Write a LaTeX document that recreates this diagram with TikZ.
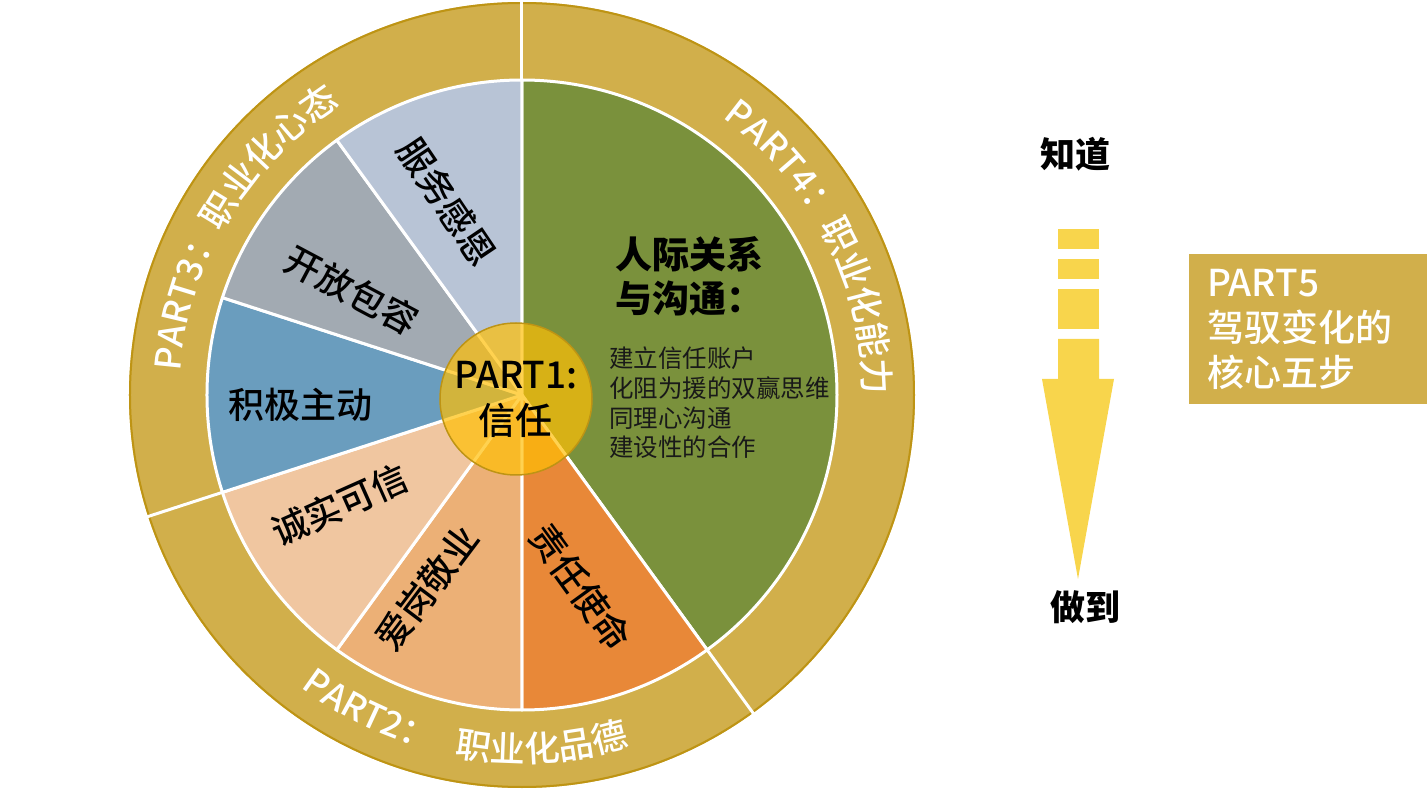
\documentclass[tikz,border=0pt]{standalone}
\usepackage{fontspec}
\setmainfont{Noto Sans CJK SC}
\newfontfamily\medfont{Noto Sans CJK SC}[UprightFont={* Medium}]
\usetikzlibrary{decorations.text}

\definecolor{ringgold}{RGB}{209,175,75}
\definecolor{ringedge}{RGB}{190,148,20}
\definecolor{commgreen}{RGB}{122,145,60}
\definecolor{dutyorange}{RGB}{232,136,56}
\definecolor{jobtan}{RGB}{236,176,118}
\definecolor{honestpeach}{RGB}{240,198,160}
\definecolor{activeblue}{RGB}{106,157,190}
\definecolor{opengrey}{RGB}{162,170,178}
\definecolor{servesky}{RGB}{184,196,214}
\definecolor{trustgold}{RGB}{255,191,6}
\definecolor{arrowyellow}{RGB}{248,213,76}

\newcommand{\ringfont}{\medfont\fontsize{35.5}{36}\selectfont}

\begin{document}
\begin{tikzpicture}[
    x=1pt, y=1pt,
    slice/.style={draw=white, line width=3pt, line join=round},
    divider/.style={draw=white, line width=3pt},
    slicelabel/.style={font=\medfont\fontsize{36}{40}\selectfont, inner sep=0pt},
    ringtext/.style={decorate, decoration={text along path, text align=center,
                     text color=white}},
    hub/.style={circle, minimum size=152pt, inner sep=0pt, fill=trustgold,
                fill opacity=0.7, text opacity=1, draw=ringedge, line width=1.5pt,
                align=center, font=\medfont\fontsize{37}{46}\selectfont},
    steptext/.style={font=\fontsize{35}{40}\selectfont\bfseries, inner sep=0pt},
    part5box/.style={rectangle, fill=ringgold, text=white, align=left,
                     text width=202pt, inner xsep=18pt, inner ysep=2pt,
                     minimum height=150pt, font=\medfont\fontsize{37}{45}\selectfont},
]
\useasboundingbox (-522,-394) rectangle (905,395);

% outer ring
\fill[ringgold] (0,0) circle[radius=393pt];
\draw[ringedge, line width=2pt] (0,0) circle[radius=392pt];

% PART4 slice
\filldraw[slice, fill=commgreen] (0,0) -- (90:315pt) arc[start angle=90, end angle=-54, radius=315pt] -- cycle;
% PART2 slices
\filldraw[slice, fill=dutyorange] (0,0) -- (-54:315pt) arc[start angle=-54, end angle=-90, radius=315pt] -- cycle;
\filldraw[slice, fill=jobtan] (0,0) -- (-90:315pt) arc[start angle=-90, end angle=-126, radius=315pt] -- cycle;
\filldraw[slice, fill=honestpeach] (0,0) -- (234:315pt) arc[start angle=234, end angle=198, radius=315pt] -- cycle;
% PART3 slices
\filldraw[slice, fill=activeblue] (0,0) -- (198:315pt) arc[start angle=198, end angle=162, radius=315pt] -- cycle;
\filldraw[slice, fill=opengrey] (0,0) -- (162:315pt) arc[start angle=162, end angle=126, radius=315pt] -- cycle;
\filldraw[slice, fill=servesky] (0,0) -- (126:315pt) arc[start angle=126, end angle=90, radius=315pt] -- cycle;

% ring dividers
\draw[divider] (90:315pt) -- (90:394pt);
\draw[divider] (198:315pt) -- (198:394pt);
\draw[divider] (-54:315pt) -- (-54:394pt);

% ring titles
\path[ringtext, decoration={text={|\ringfont|PART4：职业化能力}}]
    (100:342pt) arc[start angle=100, end angle=-46, radius=342pt];
\path[ringtext, decoration={text={|\ringfont|PART3：职业化心态}}]
    (222:342pt) arc[start angle=222, end angle=76, radius=342pt];
\path[ringtext, decoration={text={|\ringfont|PART2：{\hspace{24pt}}职业化品德}}]
    (-172:367pt) arc[start angle=-172, end angle=-28, radius=367pt];

% slice labels
\node[slicelabel, rotate=-56] (serve) at (-75,193) {服务感恩};
\node[slicelabel, rotate=-28] (open) at (-170,105) {开放包容};
\node[slicelabel] (active) at (-221,-10) {积极主动};
\node[slicelabel, rotate=24] (honest) at (-182,-110) {诚实可信};
\node[slicelabel, rotate=53] (job) at (-95,-193) {爱岗敬业};
\node[slicelabel, rotate=-54] (duty) at (59,-192) {责任使命};

% communication slice
\node[anchor=west, align=left, inner sep=0pt,
      font=\fontsize{37}{44}\selectfont\bfseries] (comm) at (93,119) {人际关系\\与沟通：};
\node[anchor=west, align=left, inner sep=0pt, text=black!90,
      font=\fontsize{24.5}{29.7}\selectfont] (commlist) at (87,-8) {建立信任账户\\化阻为援的双赢思维\\同理心沟通\\建设性的合作};

% hub
\node[hub] (trust) at (-6,-4) {PART1:\\信任};

% know -> do arrow
\node[steptext] (know) at (553,241) {知道};
\fill[arrowyellow] (536,166) rectangle (577,146);
\fill[arrowyellow] (536,136) rectangle (577,116);
\fill[arrowyellow] (536,106) rectangle (577,66);
\fill[arrowyellow] (536,56) -- (577,56) -- (577,16) -- (592,16) -- (556,-184)
    -- (520,16) -- (536,16) -- cycle;
\node[steptext] (do) at (563,-212) {做到};

% PART5
\node[part5box] (part5) at (786,66) {PART5\\驾驭变化的\\核心五步};

\end{tikzpicture}
\end{document}
